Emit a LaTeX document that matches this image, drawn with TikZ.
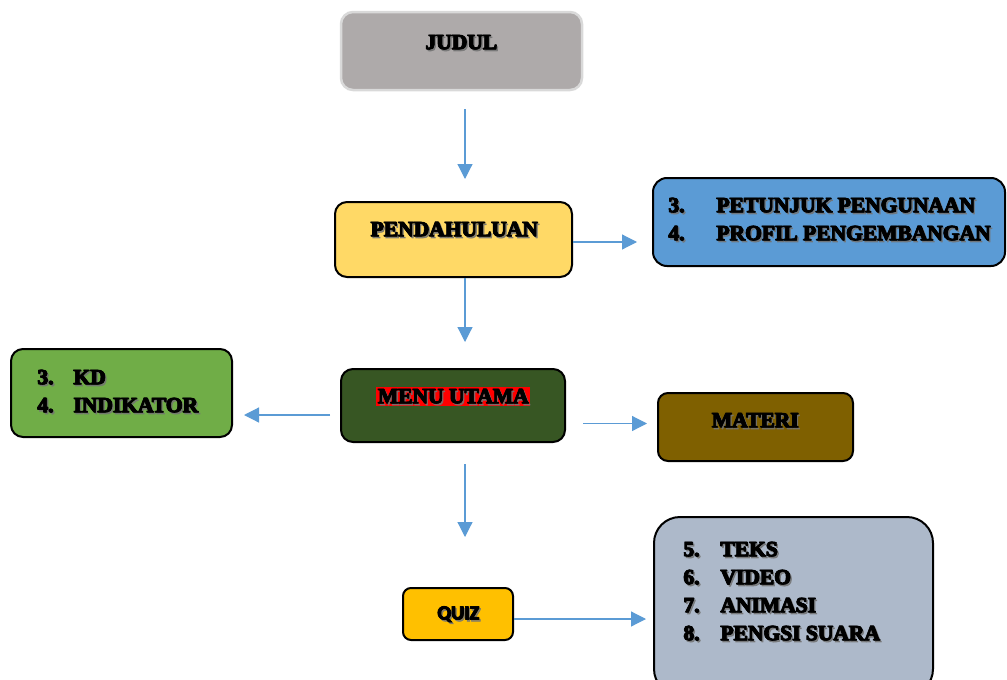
\documentclass[tikz,border=0pt]{standalone}
\usepackage{fontspec}
\setmainfont{Liberation Serif}
\newfontfamily\heavy{Liberation Serif}[FakeBold=3]
\newfontfamily\qfont{Carlito}[FakeBold=3]
\usetikzlibrary{arrows.meta}
\definecolor{judulfill}{HTML}{AEAAAA}
\definecolor{judulline}{HTML}{D9D9D9}
\definecolor{pendfill}{HTML}{FFD966}
\definecolor{bluefill}{HTML}{5B9BD5}
\definecolor{menufill}{HTML}{375623}
\definecolor{greenfill}{HTML}{70AD47}
\definecolor{materifill}{HTML}{7F6000}
\definecolor{quizfill}{HTML}{FFC000}
\definecolor{mediafill}{HTML}{ADB9CA}
\definecolor{arrowcol}{HTML}{5B9BD5}
\tikzset{
  box/.style={draw=black, line width=2pt, rounded corners=12pt, inner sep=0pt},
  txt/.style={inner sep=0pt, text=black, font=\heavy\bfseries\fontsize{21.5}{28}\selectfont},
  txtS/.style={txt, text=black!55, text opacity=0.8, xshift=1.9pt, yshift=-2pt},
  txtB/.style={txt, xshift=0.6pt, yshift=-0.3pt},
}
\tikzset{arr/.style={draw=arrowcol, line width=1.2pt, -{Triangle[length=15pt,width=15pt]}}}
\newcommand\stxt[4][]{%
  \node[txtS,#1] at (#3) {#4};
  \node[txtB,#1] at (#3) {#4};
  \node[txt,#1] (#2) at (#3) {#4};}
\begin{document}
\begin{tikzpicture}[x=1pt,y=-1pt]
\useasboundingbox (0,0) rectangle (1007,680);
% boxes
\node[box, draw=judulline, line width=2.5pt, fill=judulfill, minimum width=241pt, minimum height=78pt] (judul) at (461.5,51) {};
\node[box, fill=pendfill, minimum width=237pt, minimum height=75pt] (pend) at (453.5,239.5) {};
\node[box, fill=bluefill, rounded corners=14pt, minimum width=352pt, minimum height=88pt] (blue) at (829,222) {};
\node[box, fill=menufill, minimum width=224pt, minimum height=73pt] (menu) at (453,405.5) {};
\node[box, fill=greenfill, minimum width=221pt, minimum height=88pt] (green) at (121.5,393) {};
\node[box, fill=materifill, rounded corners=10pt, minimum width=195pt, minimum height=68pt] (materi) at (755.5,427) {};
\node[box, fill=quizfill, rounded corners=8pt, minimum width=110pt, minimum height=52pt] (quiz) at (458,614) {};
\node[box, fill=mediafill, rounded corners=26pt, minimum width=279pt, minimum height=178pt] (media) at (793.5,606) {};
% texts
\stxt{judult}{461,42}{JUDUL}
\stxt{pendt}{454,229}{PENDAHULUAN}
\stxt[anchor=west, align=left]{bluet}{668,219}{\makebox[48pt][l]{3.}PETUNJUK PENGUNAAN\\\makebox[48pt][l]{4.}PROFIL PENGEMBANGAN}
\node[fill=red, inner xsep=1.5pt, inner ysep=2.5pt, font=\heavy\bfseries\fontsize{21.5}{28}\selectfont] (menubg) at (453,396.5) {\phantom{MENU UTAMA}};
\stxt{menut}{453,396}{MENU UTAMA}
\stxt[anchor=west, align=left]{greent}{37,391}{\makebox[36pt][l]{3.}KD\\\makebox[36pt][l]{4.}INDIKATOR}
\stxt{materit}{755,420}{MATERI}
\stxt[font=\qfont\bfseries\fontsize{20}{24}\selectfont]{quizt}{458,614}{QUIZ}
\stxt[anchor=west, align=left]{mediat}{683,591}{\makebox[37pt][l]{5.}TEKS\\\makebox[37pt][l]{6.}VIDEO\\\makebox[37pt][l]{7.}ANIMASI\\\makebox[37pt][l]{8.}PENGSI SUARA}
% arrows
\coordinate (cx) at (465,0);
\draw[arr, shorten <=18pt, shorten >=22pt] (judul.south -| cx) -- (pend.north -| cx);
\path ([yshift=-2.5pt]pend.east) coordinate (p1);
\draw[arr, shorten >=15pt] (p1) -- (p1 -| blue.west);
\draw[arr, shorten >=26pt] (pend.south -| cx) -- (menu.north -| cx);
\path ([yshift=-9.5pt]menu.west) coordinate (m1);
\draw[arr, shorten <=10pt, shorten >=11pt] (m1) -- (m1 -| green.east);
\path ([yshift=-18pt]menu.east) coordinate (m2);
\draw[arr, shorten <=17pt, shorten >=10pt] (m2) -- (m2 -| materi.west);
\draw[arr, shorten <=21pt, shorten >=50pt] (menu.south -| cx) -- (quiz.north -| cx);
\path ([yshift=-5pt]quiz.east) coordinate (q1);
\draw[arr, shorten >=7pt] (q1) -- (q1 -| media.west);
\end{tikzpicture}
\end{document}
